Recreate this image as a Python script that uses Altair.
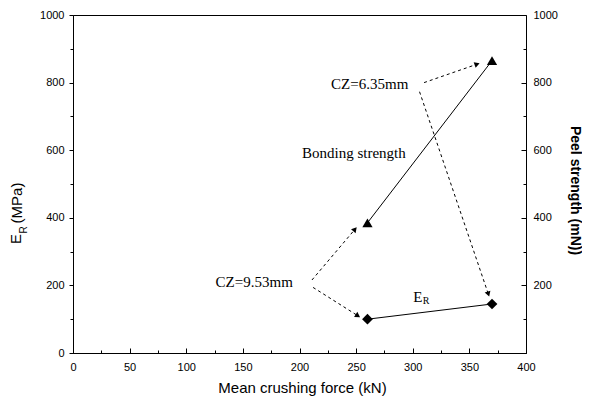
import math
import altair as alt
import pandas as pd

# ---------------- data ----------------
force_kN = [260, 370]
er_mpa = [100, 145]
peel_mn = [385, 865]

note_text = ["CZ=6.35mm", "Bonding strength", "CZ=9.53mm"]
note_x = [262, 248, 160]
note_y = [796, 593, 211]

er_label_x = [304.5]
er_label_y = [166]

arrow_x1 = [310, 306, 211, 212]
arrow_y1 = [800, 773, 216, 194]
arrow_x2 = [359, 367.5, 250.5, 253.5]
arrow_y2 = [857, 167, 372, 106]

x_major = list(range(0, 401, 50))
x_minor = list(range(25, 400, 50))
y_major = list(range(0, 1001, 200))
y_minor = list(range(100, 1000, 200))
y_right_labels = list(range(200, 1001, 200))

# ---------------- layout ----------------
W, H = 453, 338
XDOM = [0, 400]
YDOM = [0, 1000]
sx = W / (XDOM[1] - XDOM[0])
sy = H / (YDOM[1] - YDOM[0])
AX_FONT = "Liberation Sans"
TX_FONT = "Liberation Serif"
HEAD = 36


def xenc(axis=None):
    return alt.X("x:Q", scale=alt.Scale(domain=XDOM, nice=False, zero=False), axis=axis)


def yenc(axis=None):
    return alt.Y("y:Q", scale=alt.Scale(domain=YDOM, nice=False, zero=False), axis=axis)


df_er = pd.DataFrame({"x": force_kN, "y": er_mpa})
df_peel = pd.DataFrame({"x": force_kN, "y": peel_mn})

# arrow geometry (direction in pixel space for the heads)
h = 0.433 * math.sqrt(HEAD)
rows = []
for x1, y1, x2, y2 in zip(arrow_x1, arrow_y1, arrow_x2, arrow_y2):
    dxp = (x2 - x1) * sx
    dyp = -(y2 - y1) * sy
    L = math.hypot(dxp, dyp)
    ux, uy = dxp / L, dyp / L
    ang = math.degrees(math.atan2(ux, -uy)) % 360
    cx = x2 - ux * h / sx
    cy = y2 + uy * h / sy
    rows.append({"x": x1, "y": y1, "x2": cx, "y2": cy, "angle": ang})
df_arrow = pd.DataFrame(rows)

# ---------------- axes ----------------
bottom_axis = alt.Axis(
    orient="bottom", values=x_major, ticks=False, grid=False, labelPadding=8,
    labelFont=AX_FONT, labelFontSize=11, labelFlush=False, format="d",
    title="Mean crushing force (kN)", titleFont=AX_FONT, titleFontSize=15,
    titleFontWeight="normal", titleX=229, titleY=34, titleBaseline="middle",
    titleAlign="center",
)
left_axis = alt.Axis(
    orient="left", values=y_major, tickSize=4, grid=False, labelPadding=5,
    labelFont=AX_FONT, labelFontSize=11, labelFlush=False, format="d", title=None,
)
right_axis = alt.Axis(
    orient="right", values=y_right_labels, ticks=False, grid=False, domain=False,
    labelPadding=7, labelFont=AX_FONT, labelFontSize=11, labelFlush=False, format="d",
    title="Peel strength (mN))", titleFont=AX_FONT, titleFontSize=14,
    titleFontWeight="bold", titleAngle=90, titleX=48, titleY=175,
    titleAlign="center", titleBaseline="middle",
)


def tick_axis(orient, values, size, offset=0):
    return alt.Axis(orient=orient, values=values, tickSize=size, labels=False,
                    domain=False, grid=False, title=None, offset=offset)


invisible = dict(opacity=0, size=1)

layers = []

# E_R series (left axis)
layers.append(alt.Chart(df_er).mark_line(color="black", strokeWidth=1).encode(
    x=xenc(bottom_axis), y=yenc(left_axis)))
layers.append(alt.Chart(df_er).mark_point(shape="diamond", filled=True, size=115,
                                          color="black", opacity=1).encode(
    x=xenc(), y=yenc()))

# Bonding / peel strength series (right axis)
layers.append(alt.Chart(df_peel).mark_line(color="black", strokeWidth=1).encode(
    x=xenc(), y=yenc(right_axis)))
layers.append(alt.Chart(df_peel).mark_point(shape="triangle-up", filled=True, size=105,
                                            color="black", opacity=1).encode(
    x=xenc(), y=yenc()))

# tick-only helper axes (inward ticks on bottom and right, minor ticks)
layers.append(alt.Chart(df_er).mark_point(**invisible).encode(
    x=xenc(tick_axis("top", x_major, 5, -H)), y=yenc(tick_axis("left", y_minor, 3))))
layers.append(alt.Chart(df_er).mark_point(**invisible).encode(
    x=xenc(tick_axis("top", x_minor, 3, -H)), y=yenc(tick_axis("left", y_major, 5, -W))))
layers.append(alt.Chart(df_er).mark_point(**invisible).encode(
    x=xenc(), y=yenc(tick_axis("left", y_minor, 3, -W))))

# dashed arrows
layers.append(alt.Chart(df_arrow).mark_rule(color="black", strokeWidth=1,
                                            strokeDash=[3, 3]).encode(
    x=xenc(), y=yenc(), x2="x2:Q", y2="y2:Q"))
layers.append(alt.Chart(df_arrow).mark_point(shape="triangle-up", filled=True, size=HEAD,
                                            color="black", opacity=1).encode(
    x=alt.X("x2:Q", scale=alt.Scale(domain=XDOM, nice=False, zero=False), axis=None),
    y=alt.Y("y2:Q", scale=alt.Scale(domain=YDOM, nice=False, zero=False), axis=None),
    angle=alt.Angle("angle:Q", scale=None)))

# annotation texts
df_notes = pd.DataFrame({"x": note_x, "y": note_y, "t": note_text})
layers.append(alt.Chart(df_notes).mark_text(font=TX_FONT, fontSize=15, color="black",
                                            align="center", baseline="middle").encode(
    x=xenc(), y=yenc(), text="t:N"))
df_er_lab = pd.DataFrame({"x": er_label_x, "y": er_label_y, "t": ["E"]})
layers.append(alt.Chart(df_er_lab).mark_text(font=TX_FONT, fontSize=15, color="black",
                                             align="center", baseline="middle").encode(
    x=xenc(), y=yenc(), text="t:N"))
df_er_sub = pd.DataFrame({"x": er_label_x, "y": er_label_y, "t": ["R"]})
layers.append(alt.Chart(df_er_sub).mark_text(font=TX_FONT, fontSize=10, color="black",
                                             align="left", baseline="middle",
                                             dx=5, dy=4).encode(
    x=xenc(), y=yenc(), text="t:N"))

# left axis title: E_R (MPa) with subscript
title_parts = ["E", "R", "(MPa)"]
title_px = [-57, -49, -56]
title_py = [224, 215, 188]
title_fs = [15, 10, 15]
for t, px, py, fs in zip(title_parts, title_px, title_py, title_fs):
    layers.append(alt.Chart(pd.DataFrame({"t": [t]})).mark_text(
        font=AX_FONT, fontSize=fs, color="black", angle=270,
        align="center", baseline="middle").encode(
        x=alt.value(px), y=alt.value(py), text="t:N"))

chart = alt.layer(*layers).resolve_scale(y="independent").resolve_axis(
    x="independent", y="independent"
).properties(
    width=W, height=H,
    autosize=alt.AutoSizeParams(type="none"),
    padding={"left": 65, "top": 7, "right": 56, "bottom": 44},
    background="white",
).configure_view(stroke="black", strokeWidth=1).configure_axis(
    domainColor="black", tickColor="black", labelColor="black", titleColor="black",
    domainWidth=1, tickWidth=1,
)

chart.save("out.html", embed_options={"renderer": "svg", "actions": False})
